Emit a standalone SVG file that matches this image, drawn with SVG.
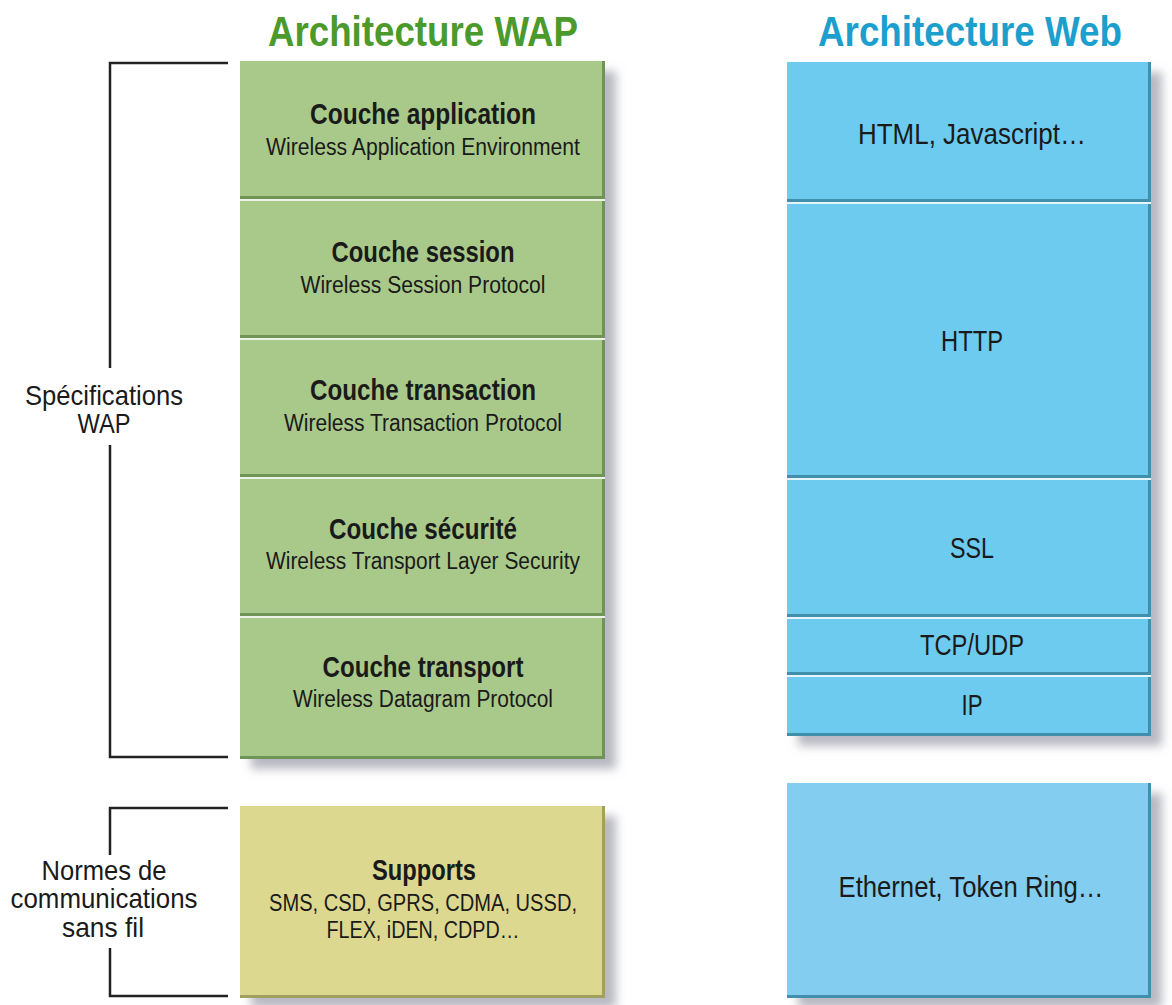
<svg xmlns="http://www.w3.org/2000/svg" width="1172" height="1005" viewBox="0 0 1172 1005">
  <defs>
    <filter id="shadow" x="-10%" y="-10%" width="130%" height="130%">
      <feGaussianBlur in="SourceAlpha" stdDeviation="5"/>
      <feOffset dx="11" dy="10" result="b"/>
      <feFlood flood-color="#8a8a9a" flood-opacity="0.6"/>
      <feComposite in2="b" operator="in"/>
      <feMerge><feMergeNode/><feMergeNode in="SourceGraphic"/></feMerge>
    </filter>
  </defs>
  <style>
    text { font-family: "Liberation Sans", Arial, sans-serif; fill: #1a1a1a; text-anchor: middle; }
    .title { font-size: 42px; font-weight: bold; }
    .h { font-size: 30px; font-weight: bold; }
    .s { font-size: 23px; }
    .w { font-size: 29px; }
    .lbl { font-size: 28px; }
    .green { fill: #a9c98a; }
    .greenEdge { fill: #6f9455; }
    .blue { fill: #6ccbee; }
    .blueEdge { fill: #3f8fad; }
    .yellow { fill: #ddd88f; }
    .yellowEdge { fill: #a39f5c; }
    .blue2 { fill: #82cdf0; }
    .sepLight { fill: #eef3ea; }
    .sepLightB { fill: #e6f4fb; }
    .bracket { fill: none; stroke: #222; stroke-width: 2.5; }
  </style>

  <!-- column headings -->
  <text class="title" x="423" y="46" textLength="310" lengthAdjust="spacingAndGlyphs" style="fill:#4b9a2b">Architecture WAP</text>
  <text class="title" x="970" y="46" textLength="304" lengthAdjust="spacingAndGlyphs" style="fill:#1d9fcd">Architecture Web</text>

  <!-- WAP stack -->
  <g id="wap-stack" filter="url(#shadow)">
    <rect class="greenEdge" x="240" y="61" width="365" height="698"/>
    <rect class="green" x="240" y="61" width="362" height="695"/>
    <g id="wap-sep">
      <rect class="greenEdge" x="240" y="196" width="365" height="3"/>
      <rect class="sepLight" x="240" y="199" width="365" height="2"/>
      <rect class="greenEdge" x="240" y="335" width="365" height="3"/>
      <rect class="sepLight" x="240" y="338" width="365" height="2"/>
      <rect class="greenEdge" x="240" y="474" width="365" height="3"/>
      <rect class="sepLight" x="240" y="477" width="365" height="2"/>
      <rect class="greenEdge" x="240" y="613" width="365" height="3"/>
      <rect class="sepLight" x="240" y="616" width="365" height="2"/>
    </g>
  </g>
  <g id="layer-application">
    <text class="h" x="423" y="124" textLength="226" lengthAdjust="spacingAndGlyphs">Couche application</text>
    <text class="s" x="423" y="155" textLength="314" lengthAdjust="spacingAndGlyphs">Wireless Application Environment</text>
  </g>
  <g id="layer-session">
    <text class="h" x="423" y="262" textLength="183" lengthAdjust="spacingAndGlyphs">Couche session</text>
    <text class="s" x="423" y="293" textLength="245" lengthAdjust="spacingAndGlyphs">Wireless Session Protocol</text>
  </g>
  <g id="layer-transaction">
    <text class="h" x="423" y="400" textLength="226" lengthAdjust="spacingAndGlyphs">Couche transaction</text>
    <text class="s" x="423" y="431" textLength="278" lengthAdjust="spacingAndGlyphs">Wireless Transaction Protocol</text>
  </g>
  <g id="layer-securite">
    <text class="h" x="423" y="539" textLength="188" lengthAdjust="spacingAndGlyphs">Couche sécurité</text>
    <text class="s" x="423" y="569" textLength="314" lengthAdjust="spacingAndGlyphs">Wireless Transport Layer Security</text>
  </g>
  <g id="layer-transport">
    <text class="h" x="423" y="677" textLength="201" lengthAdjust="spacingAndGlyphs">Couche transport</text>
    <text class="s" x="423" y="707" textLength="260" lengthAdjust="spacingAndGlyphs">Wireless Datagram Protocol</text>
  </g>

  <!-- Supports -->
  <g id="supports">
    <g filter="url(#shadow)">
      <rect class="yellowEdge" x="240" y="806" width="365" height="192"/>
      <rect class="yellow" x="240" y="806" width="362" height="189"/>
    </g>
    <text class="h" x="424" y="880" textLength="104" lengthAdjust="spacingAndGlyphs">Supports</text>
    <text class="s" x="423" y="911" textLength="308" lengthAdjust="spacingAndGlyphs">SMS, CSD, GPRS, CDMA, USSD,</text>
    <text class="s" x="423" y="938" textLength="193" lengthAdjust="spacingAndGlyphs">FLEX, iDEN, CDPD…</text>
  </g>

  <!-- Web stack -->
  <g id="web-stack" filter="url(#shadow)">
    <rect class="blueEdge" x="787" y="62" width="364" height="674"/>
    <rect class="blue" x="787" y="62" width="361" height="671"/>
    <g id="web-sep">
      <rect class="blueEdge" x="787" y="199" width="364" height="3"/>
      <rect class="sepLightB" x="787" y="202" width="364" height="2"/>
      <rect class="blueEdge" x="787" y="475" width="364" height="3"/>
      <rect class="sepLightB" x="787" y="478" width="364" height="2"/>
      <rect class="blueEdge" x="787" y="614" width="364" height="3"/>
      <rect class="sepLightB" x="787" y="617" width="364" height="2"/>
      <rect class="blueEdge" x="787" y="672" width="364" height="3"/>
      <rect class="sepLightB" x="787" y="675" width="364" height="2"/>
    </g>
  </g>
  <g id="web-html"><text class="w" x="972" y="144" textLength="228" lengthAdjust="spacingAndGlyphs">HTML, Javascript…</text></g>
  <g id="web-http"><text class="w" x="972" y="351" textLength="62" lengthAdjust="spacingAndGlyphs">HTTP</text></g>
  <g id="web-ssl"><text class="w" x="972" y="558" textLength="44" lengthAdjust="spacingAndGlyphs">SSL</text></g>
  <g id="web-tcpudp"><text class="w" x="972" y="655" textLength="104" lengthAdjust="spacingAndGlyphs">TCP/UDP</text></g>
  <g id="web-ip"><text class="w" x="972" y="715" textLength="21" lengthAdjust="spacingAndGlyphs">IP</text></g>

  <g id="web-physical">
    <g filter="url(#shadow)">
      <rect class="blueEdge" x="787" y="783" width="364" height="215"/>
      <rect class="blue2" x="787" y="783" width="361" height="212"/>
    </g>
    <text class="w" x="971" y="897" textLength="265" lengthAdjust="spacingAndGlyphs">Ethernet, Token Ring…</text>
  </g>

  <!-- brackets -->
  <g id="connectors">
    <path class="bracket" d="M228,63 H110 V368 M110,445 V757 H228"/>
    <path class="bracket" d="M228,808 H110 V855 M110,948 V996 H228"/>
  </g>
  <g id="bracket-labels">
    <text class="lbl" x="104" y="405" textLength="158" lengthAdjust="spacingAndGlyphs">Spécifications</text>
    <text class="lbl" x="104" y="433" textLength="53" lengthAdjust="spacingAndGlyphs">WAP</text>
    <text class="lbl" x="104" y="880" textLength="125" lengthAdjust="spacingAndGlyphs">Normes de</text>
    <text class="lbl" x="104" y="908" textLength="187" lengthAdjust="spacingAndGlyphs">communications</text>
    <text class="lbl" x="103" y="937" textLength="82" lengthAdjust="spacingAndGlyphs">sans fil</text>
  </g>
</svg>
